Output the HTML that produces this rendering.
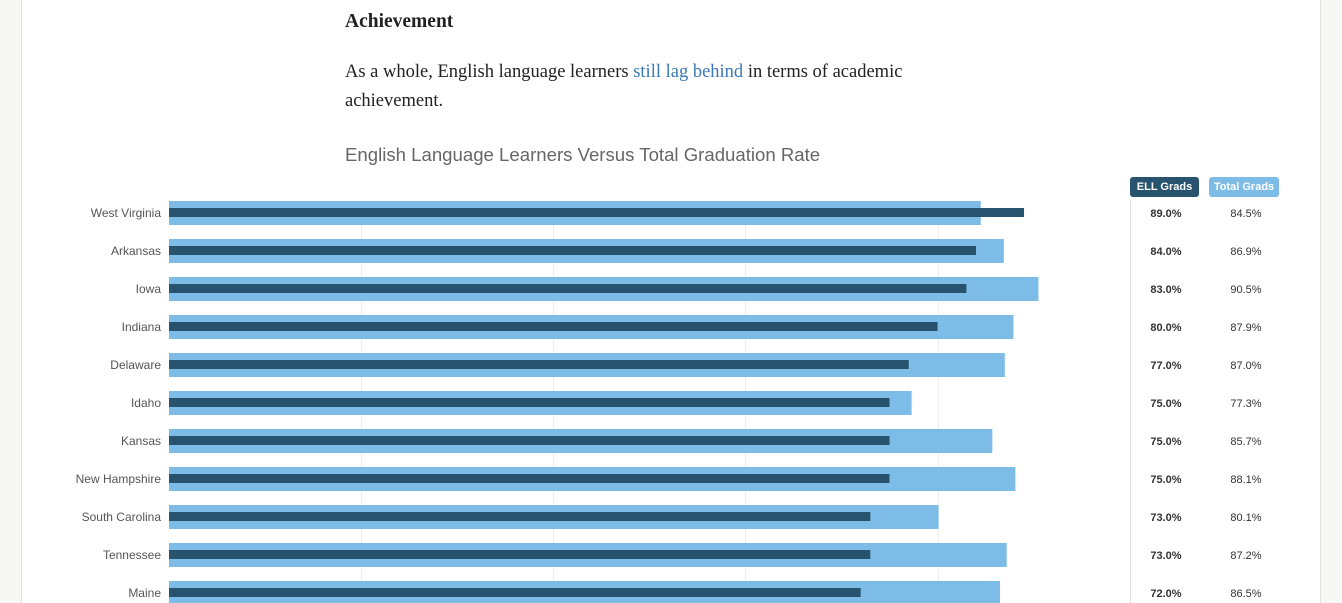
<!DOCTYPE html>
<html><head><meta charset="utf-8"><style>
body{margin:0;width:1342px;height:603px;overflow:hidden;background:#f7f7f5;font-family:"Liberation Sans",sans-serif}
#page{position:absolute;left:21px;top:0;width:1298px;height:603px;background:#fff;border-left:1px solid #e2e2e2;border-right:1px solid #e2e2e2}
.serif{font-family:"Liberation Serif",serif;color:#222;position:absolute}
.badge{position:absolute;top:177px;height:20px;line-height:20px;border-radius:3px;color:#fff;font-size:11px;font-weight:bold;text-align:center}
</style></head><body>
<div id="page"></div>
<div class="serif" style="left:345px;top:11px;font-size:19.5px;font-weight:bold">Achievement</div>
<div class="serif" style="left:345px;top:58px;font-size:18.5px;line-height:29px;width:600px">As a whole, English language learners <a style="color:#3a78b5;text-decoration:none">still lag behind</a> in terms of academic achievement.</div>
<div style="position:absolute;left:345px;top:144px;font-size:18.6px;color:#666">English Language Learners Versus Total Graduation Rate</div>
<div class="badge" style="left:1130px;width:69px;background:#28536f">ELL Grads</div>
<div class="badge" style="left:1209px;width:70px;background:#7dbce6">Total Grads</div>
<svg id="chart" width="1342" height="603" style="position:absolute;left:0;top:0"></svg>
<script>
const states=["West Virginia","Arkansas","Iowa","Indiana","Delaware","Idaho","Kansas","New Hampshire","South Carolina","Tennessee","Maine"];
const ellValues=[89.0,84.0,83.0,80.0,77.0,75.0,75.0,75.0,73.0,73.0,72.0];
const totalValues=[84.5,86.9,90.5,87.9,87.0,77.3,85.7,88.1,80.1,87.2,86.5];
const gridTicks=[20,40,60,80,100];
const svg=document.getElementById('chart');
const NS='http://www.w3.org/2000/svg';
const x0=169,pxPer=9.607,rowTop=201,step=38;
const xs=v=>x0+v*pxPer;
function mk(t,a){const e=document.createElementNS(NS,t);for(const k in a)e.setAttribute(k,a[k]);svg.appendChild(e);return e;}
gridTicks.forEach(t=>{const l=mk('line',{x1:Math.round(xs(t))+0.5,x2:Math.round(xs(t))+0.5,y1:200,y2:603,stroke:t===100?'#e0e0e0':'#eeeeee'});

});
states.forEach((s,i)=>{const y=rowTop+i*step;
const tb=mk('rect',{x:x0,y:y,width:xs(totalValues[i])-x0,height:24,fill:'#7dbce6'});


const eb=mk('rect',{x:x0,y:y+7,width:xs(ellValues[i])-x0,height:9,fill:'#28536f'});


const lb=mk('text',{x:161,y:y+16,'text-anchor':'end','font-size':12,fill:'#555','font-family':'Liberation Sans, sans-serif'});lb.textContent=s;


const ev=mk('text',{x:1166,y:y+16,'text-anchor':'middle','font-size':11,'font-weight':'bold',fill:'#333','font-family':'Liberation Sans, sans-serif'});ev.textContent=ellValues[i].toFixed(1)+'%';


const tv=mk('text',{x:1246,y:y+16,'text-anchor':'middle','font-size':11,fill:'#333','font-family':'Liberation Sans, sans-serif'});tv.textContent=totalValues[i].toFixed(1)+'%';


});
</script>
</body></html>
